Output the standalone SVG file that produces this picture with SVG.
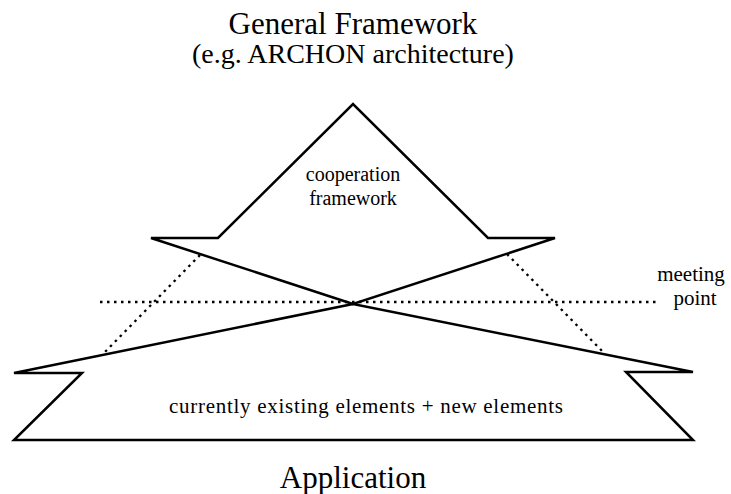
<svg xmlns="http://www.w3.org/2000/svg" width="731" height="494" viewBox="0 0 731 494">
<style>
text{font-family:"Liberation Serif","Times New Roman",serif;fill:#000;text-anchor:middle}
.title{font-size:31px}
.sub{font-size:28px}
.lbl{font-size:21px}
.in{font-size:20px}
.shape{fill:none;stroke:#000;stroke-width:2.5;stroke-linejoin:miter}
.dot{fill:none;stroke:#000;stroke-width:2.4;stroke-dasharray:2.5 4.5}
</style>
<rect width="731" height="494" fill="#fff"/>
<g id="titles">
<text class="title" x="353" y="34">General Framework</text>
<text class="sub" x="353" y="63">(e.g. ARCHON architecture)</text>
<text class="title" x="353" y="488">Application</text>
</g>
<g id="cooperation-framework">
<polygon class="shape" points="353,304 151,238 218,238 353,104 488,238 555,238"/>
<text class="in" x="353" y="181">cooperation</text>
<text class="in" x="353" y="205">framework</text>
</g>
<g id="existing-elements">
<polygon class="shape" points="353,304 14,373 82,373 14,440 693,440 626,372 693,372"/>
<text class="lbl" x="366" y="413" textLength="394">currently existing elements + new elements</text>
</g>
<g id="meeting-point">
<text class="lbl" x="691" y="281">meeting</text>
<text class="lbl" x="695" y="305">point</text>
</g>
<g id="connectors">
<line class="dot" x1="100" y1="302" x2="658" y2="302"/>
<line class="dot" x1="200" y1="255" x2="102" y2="355"/>
<line class="dot" x1="507" y1="254" x2="605" y2="354"/>
</g>
</svg>
